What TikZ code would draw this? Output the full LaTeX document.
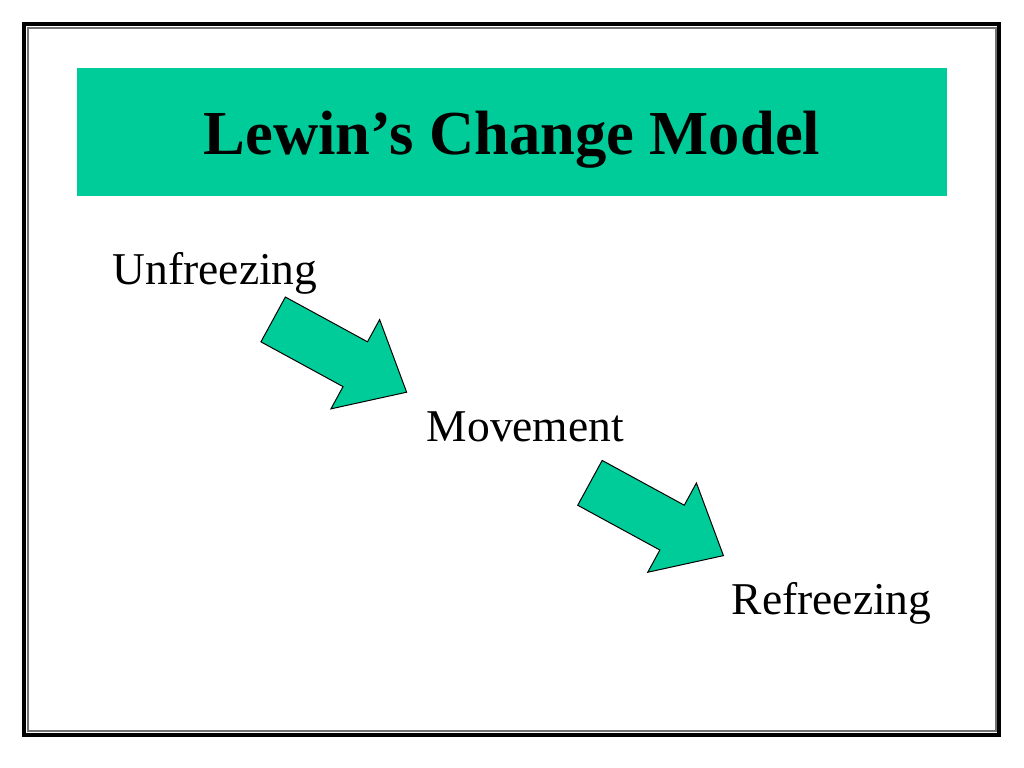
\documentclass[tikz,border=0pt]{standalone}
\usepackage{fontspec}
\setmainfont{Liberation Serif}
\usetikzlibrary{shapes.arrows,positioning}
\definecolor{slidegreen}{RGB}{0,204,153}

\begin{document}
\begin{tikzpicture}[x=0.703125pt,y=-0.703125pt,
  stage/.style={anchor=base west,inner sep=0pt,font=\fontsize{32}{38}\selectfont},
  bigarrow/.style={single arrow,draw=black,line width=0.7pt,fill=slidegreen,
    minimum height=106.9pt,inner xsep=0pt,inner ysep=17.6pt,
    single arrow head extend=17.8pt,single arrow tip angle=82,rotate=-28.6}]
  \useasboundingbox (0,0) rectangle (1024,768);
  % slide frame
  \draw[line width=2.8pt] (24,24) rectangle (999,735);
  \draw[line width=1pt,black!55] (28,28) rectangle (996,731);
  \path
  node[fill=slidegreen,minimum width=611.7pt,minimum height=90pt,inner sep=0pt] (banner) at (512,132) {}
  node[anchor=base,inner sep=0pt,font=\fontsize{44}{52}\selectfont\bfseries] (title) at (512,155) {Lewin’s Change Model}
  node[stage] (unfreeze) at (112.5,284.3) {Unfreezing}
  node[stage] (move)     at (426.5,441.7) {Movement}
  node[stage] (refreeze) at (731.5,614.3) {Refreezing}
  ;
  % block arrows between the stages
  \path
  node[bigarrow] (arr_1) at (327,348.8) {}
  node[bigarrow] (arr_2) at (643.8,512.2) {}
  ;
\end{tikzpicture}
\end{document}
